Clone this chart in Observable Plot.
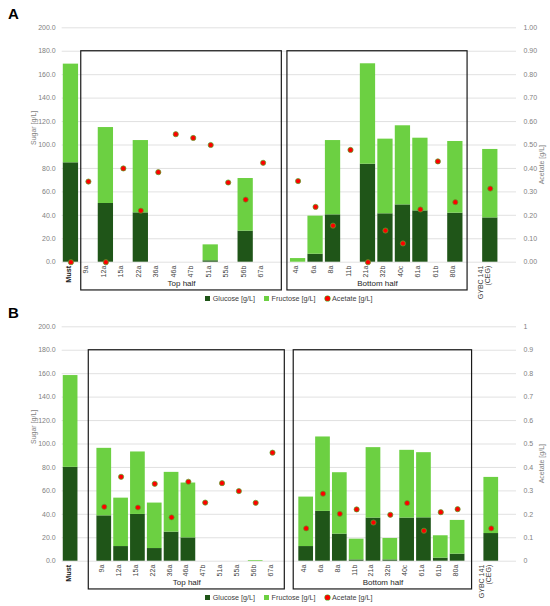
<!DOCTYPE html>
<html><head><meta charset="utf-8">
<script src="https://cdn.jsdelivr.net/npm/d3@7"></script>
<script src="https://cdn.jsdelivr.net/npm/@observablehq/plot@0.6"></script>
<style>
body{margin:0;background:#fff;font-family:"Liberation Sans",Arial,sans-serif}
#root{position:relative;width:550px;height:606px;overflow:hidden}
.panel{position:absolute;left:0;width:550px;height:305px}
.panel svg{position:absolute;left:0;top:0;overflow:visible}
.letter{position:absolute;left:8px;top:5px;line-height:15px;font:bold 15px "Liberation Sans",Arial,sans-serif;color:#000}
.legend{position:absolute;left:61.7px;width:454.3px;top:292px;height:12px;display:flex;justify-content:center;align-items:center;gap:9px;font-size:7.2px;color:#404040;white-space:nowrap}
.item{display:flex;align-items:center;gap:2.5px}
.sq{display:inline-block;width:5px;height:5px}
.dt{display:inline-block;width:5px;height:5px;border-radius:50%;background:#ff0000;box-shadow:0 0 0 0.6px #4fae2b}
</style>
</head><body>
<div id="root">
  <div class="panel" id="pA" style="top:0px"><div class="letter">A</div></div>
  <div class="panel" id="pB" style="top:299px"><div class="letter">B</div></div>
</div>
<script>
// ---- Panel A data ----
const catsA = ["Must","9a","12a","15a","22a","36a","46a","47b","51a","55a","56b","67a","","4a","6a","8a","11b","21a","32b","40c","61a","61b","80a","","GYBC 141\n(CEG)",""];
const glucoseA  = [84.8,null,50.1,null,42.1,null,null,null,1.2,null,26.5,null,null,0,6.8,40.4,null,83.6,41.3,48.9,43.8,null,41.8,null,37.8,null];
const fructoseA = [84.2,null,64.8,null,61.7,null,null,null,13.6,null,44.9,null,null,3.1,32.5,63.4,null,85.7,63.7,67.5,62.0,null,61.2,null,58.4,null];
const acetateA  = [0,0.344,0,0.40,0.22,0.384,0.546,0.53,0.50,0.34,0.267,0.424,null,0.346,0.236,0.156,0.479,0,0.135,0.08,0.225,0.43,0.256,null,0.314,null];

// ---- Panel B data ----
const catsB = ["Must","","9a","12a","15a","22a","36a","46a","47b","51a","55a","56b","67a","","4a","6a","8a","11b","21a","32b","40c","61a","61b","80a","","GYBC 141\n(CEG)",""];
const glucoseB  = [80.1,null,38.7,12.5,39.9,10.8,24.8,19.9,null,null,null,0,null,null,12.5,42.5,23.1,1.1,36.8,1.1,36.8,37.0,2.6,6.0,null,23.6,null];
const fructoseB = [78.3,null,57.6,41.3,53.3,38.8,51.0,46.8,null,null,null,0.6,null,null,42.2,63.5,52.4,17.7,60.1,18.3,57.8,55.6,19.1,28.8,null,47.9,null];
const acetateB  = [null,null,0.232,0.36,0.229,0.33,0.187,0.339,0.25,0.333,0.299,0.249,0.463,null,0.14,0.288,0.202,0.221,0.165,0.198,0.248,0.13,0.209,0.222,null,0.14,null];

// ---- shared ----
const groups = [{label:"Top half", first:"9a", last:"67a"},{label:"Bottom half", first:"4a", last:"80a"}];
const sugarTicks = [0,20,40,60,80,100,120,140,160,180,200];
const acetateTicks = [0,0.1,0.2,0.3,0.4,0.5,0.6,0.7,0.8,0.9,1];
const legendItems = ["Glucose [g/L]","Fructose [g/L]","Acetate [g/L]"];
const axisTitles = ["Sugar [g/L]","Acetate [g/L]"];

const GLU = "#1f5518", FRU = "#6cd042";
const ACE_RATIO = 200; // 1 g/L acetate on the right axis == 200 g/L sugar on the left
const BOX_TOP = 180, BOX_BOTTOM = -24.1;

function drawPanel(cats, glu, fru, ace, rightFmt, boxPad) {
  const n = cats.length;
  const idx = c => cats.indexOf(c);
  const gBars = [], fBars = [];
  cats.forEach((c, i) => {
    const g = glu[i] || 0;
    if (glu[i] != null) gBars.push({i, y1: 0, y2: g});
    if (fru[i] != null) fBars.push({i, y1: g, y2: g + fru[i]});
  });
  const dots = cats.map((c, i) => ({i, a: ace[i]})).filter(d => d.a != null);
  const labels = cats.map((c, i) => ({i, c})).filter(d => d.c);
  const boxes = groups.map((g, k) => ({...g, x1: idx(g.first) - boxPad[k][0], x2: idx(g.last) + boxPad[k][1]}));
  const hw = 0.437;
  return Plot.plot({
    width: 550, height: 292,
    marginLeft: 61.7, marginRight: 34, marginTop: 27.3, marginBottom: 30.3,
    style: {fontFamily: "Liberation Sans, Arial, sans-serif", fontSize: "7px", background: "transparent", overflow: "visible"},
    x: {type: "linear", domain: [-0.5, n - 0.5], axis: null},
    y: {type: "linear", domain: [0, 200], axis: null},
    marks: [
      Plot.gridY(sugarTicks, {stroke: "#d9d9d9", strokeOpacity: 1, strokeWidth: 0.8}),
      Plot.axisY(sugarTicks, {anchor: "left", tickSize: 0, tickPadding: 6.5, tickFormat: d => d.toFixed(1), fill: "#7f7f7f", label: null}),
      Plot.axisY(acetateTicks.map(t => t * ACE_RATIO), {anchor: "right", tickSize: 0, tickPadding: 7, tickFormat: v => rightFmt(Math.round(v / ACE_RATIO * 100) / 100), fill: "#7f7f7f", label: null}),
      Plot.rect(gBars, {x1: d => d.i - hw, x2: d => d.i + hw, y1: "y1", y2: "y2", fill: GLU}),
      Plot.rect(fBars, {x1: d => d.i - hw, x2: d => d.i + hw, y1: "y1", y2: "y2", fill: FRU}),
      Plot.dot(dots, {x: "i", y: d => d.a * ACE_RATIO, r: 2.6, fill: "#ff0000", stroke: "#4fae2b", strokeWidth: 0.7}),
      Plot.rect(boxes, {x1: "x1", x2: "x2", y1: () => BOX_BOTTOM, y2: () => BOX_TOP, fill: "none", stroke: "#1a1a1a", strokeWidth: 1.2}),
      Plot.text(boxes, {x: d => (d.x1 + d.x2) / 2, y: () => BOX_BOTTOM, dy: -7.5, text: "label", fontSize: 8, fill: "#262626"}),
      Plot.text(labels.filter(d => d.c !== "Must"), {x: "i", frameAnchor: "bottom", dy: 3.5, rotate: -90, textAnchor: "end", text: "c", fill: "#404040", fontSize: 7}),
      Plot.text(labels.filter(d => d.c === "Must"), {x: "i", frameAnchor: "bottom", dy: 3.5, rotate: -90, textAnchor: "end", text: "c", fill: "#1a1a1a", fontSize: 7.3, fontWeight: "bold"}),
      Plot.text([axisTitles[0]], {frameAnchor: "left", dx: -28.7, rotate: -90, fill: "#7f7f7f", fontSize: 7}),
      Plot.text([axisTitles[1]], {frameAnchor: "right", dx: 25.7, rotate: -90, fill: "#7f7f7f", fontSize: 7})
    ]
  });
}

function legend() {
  const div = document.createElement("div");
  div.className = "legend";
  const markers = [`<i class="sq" style="background:${GLU}"></i>`, `<i class="sq" style="background:${FRU}"></i>`, `<i class="dt"></i>`];
  div.innerHTML = legendItems.map((t, k) => `<span class="item">${markers[k]}${t}</span>`).join("");
  return div;
}

const pA = document.getElementById("pA");
pA.appendChild(drawPanel(catsA, glucoseA, fructoseA, acetateA, d3.format(".2f"), [[0.41, 1.07], [0.61, 0.70]]));
pA.appendChild(legend());
const pB = document.getElementById("pB");
pB.appendChild(drawPanel(catsB, glucoseB, fructoseB, acetateB, d3.format("~g"), [[0.92, 0.73], [0.74, 0.86]]));
pB.appendChild(legend());
</script>
</body></html>
